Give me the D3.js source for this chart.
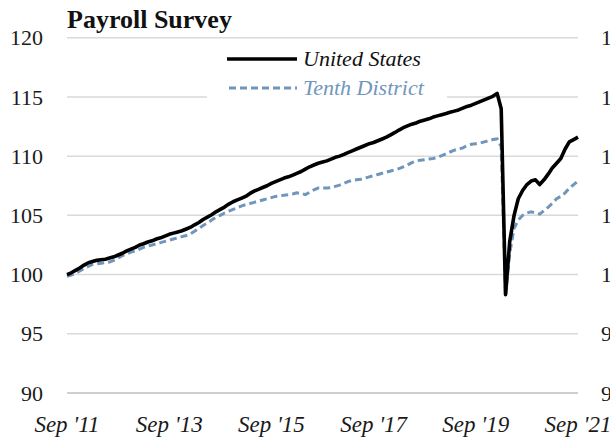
<!DOCTYPE html>
<html><head><meta charset="utf-8">
<script src="https://cdn.jsdelivr.net/npm/d3@7"></script>
<style>body{margin:0;background:#fff;}</style>
</head><body>
<svg id="c" width="610" height="443"></svg>
<script>
const title = "Payroll Survey";
const seriesNames = ["United States", "Tenth District"];
const startMonth = new Date(2011, 8, 1);
const yTicks = [90, 95, 100, 105, 110, 115, 120];
const xTickLabels = ["Sep '11", "Sep '13", "Sep '15", "Sep '17", "Sep '19", "Sep '21"];
const xTickDates = [new Date(2011,8,1), new Date(2013,8,1), new Date(2015,8,1), new Date(2017,8,1), new Date(2019,8,1), new Date(2021,8,1)];

// Monthly index values, Sep 2011 .. Sep 2021
const unitedStates = [
100.0,100.15,100.35,100.55,100.8,101.0,101.1,101.2,101.25,101.3,
101.4,101.5,101.65,101.8,102.0,102.15,102.3,102.5,102.6,102.75,
102.85,103.0,103.1,103.25,103.4,103.5,103.6,103.7,103.85,104.0,
104.2,104.4,104.65,104.85,105.05,105.3,105.5,105.7,105.95,106.15,
106.3,106.45,106.6,106.85,107.05,107.2,107.35,107.5,107.7,107.85,
108.0,108.15,108.25,108.4,108.55,108.7,108.9,109.1,109.25,109.4,
109.5,109.6,109.75,109.9,110.0,110.15,110.3,110.45,110.6,110.75,
110.9,111.05,111.15,111.3,111.45,111.6,111.8,112.0,112.2,112.4,
112.55,112.7,112.8,112.95,113.05,113.15,113.3,113.4,113.5,113.6,
113.7,113.8,113.9,114.05,114.2,114.3,114.45,114.6,114.75,114.9,
115.05,115.3,114.0,98.3,102.8,105.0,106.4,107.1,107.6,107.9,
108.0,107.6,108.0,108.5,109.0,109.4,109.8,110.6,111.2,111.4,
111.6];
const tenthDistrict = [
99.85,99.95,100.1,100.3,100.5,100.7,100.85,100.9,100.95,101.0,
101.05,101.2,101.4,101.6,101.75,101.9,102.0,102.15,102.3,102.4,
102.5,102.6,102.7,102.8,102.9,103.0,103.1,103.2,103.3,103.45,
103.65,103.9,104.15,104.35,104.6,104.85,105.0,105.2,105.35,105.5,
105.65,105.8,105.9,106.0,106.1,106.2,106.3,106.4,106.5,106.6,
106.65,106.7,106.75,106.8,106.9,106.85,106.75,106.95,107.15,107.3,
107.3,107.3,107.35,107.45,107.55,107.7,107.85,107.95,108.0,108.05,
108.15,108.25,108.35,108.45,108.55,108.65,108.75,108.85,108.95,109.1,
109.25,109.45,109.6,109.65,109.7,109.75,109.8,109.9,110.05,110.2,
110.35,110.5,110.6,110.7,110.9,111.0,111.05,111.1,111.2,111.3,
111.4,111.45,110.8,98.2,101.8,103.9,104.6,105.0,105.2,105.3,
105.2,105.1,105.4,105.7,106.0,106.4,106.6,106.9,107.3,107.6,
107.9];

const months = unitedStates.map((_, i) => new Date(startMonth.getFullYear(), startMonth.getMonth() + i, 1));
const FONT = "'Liberation Serif', 'Times New Roman', serif";

const svg = d3.select("#c");
const x = d3.scaleTime().domain([months[0], months[months.length-1]]).range([67, 578]);
const y = d3.scaleLinear().domain([90, 120]).range([393, 37.7]);

svg.append("g").selectAll("line").data(yTicks).join("line")
  .attr("x1", 67).attr("x2", 578)
  .attr("y1", d => y(d)).attr("y2", d => y(d))
  .attr("stroke", d => d === 90 ? "#bfbfbf" : "#d9d9d9").attr("stroke-width", 1.5);

svg.append("g").selectAll("text").data(yTicks).join("text")
  .style("font-family", FONT)
  .attr("x", 43).attr("y", d => y(d)).attr("dy", "0.35em")
  .attr("text-anchor", "end").attr("font-size", 22).attr("fill", "#1a1a1a")
  .text(d => d);
// right-hand labels, cut by the window edge as in the reference
svg.append("g").selectAll("text").data(yTicks).join("text")
  .style("font-family", FONT)
  .attr("x", 601).attr("y", d => y(d)).attr("dy", "0.35em")
  .attr("text-anchor", "start").attr("font-size", 22).attr("fill", "#1a1a1a")
  .text(d => d);

svg.append("g").selectAll("text").data(xTickDates).join("text")
  .style("font-family", FONT)
  .attr("x", d => x(d)).attr("y", 432)
  .attr("text-anchor", "middle").attr("font-size", 23).attr("font-style", "italic").attr("fill", "#1a1a1a")
  .text((d, i) => xTickLabels[i]);

svg.append("rect").attr("x", 207).attr("y", 45).attr("width", 240).attr("height", 60).attr("fill", "#fff");

const line = d3.line().x((d, i) => x(months[i])).y(d => y(d));
svg.append("path").datum(tenthDistrict).attr("d", line)
  .attr("fill", "none").attr("stroke", "#7096bb").attr("stroke-width", 3).attr("stroke-dasharray", "7,4");
svg.append("path").datum(unitedStates).attr("d", line)
  .attr("fill", "none").attr("stroke", "#000").attr("stroke-width", 3.6).attr("stroke-linejoin", "round");

svg.append("line").attr("x1", 227).attr("x2", 297).attr("y1", 59).attr("y2", 59).attr("stroke", "#000").attr("stroke-width", 3.6);
svg.append("text").style("font-family", FONT).attr("x", 303).attr("y", 66).attr("font-size", 22).attr("font-style", "italic").attr("fill", "#111").text(seriesNames[0]);
svg.append("line").attr("x1", 229).attr("x2", 297).attr("y1", 88).attr("y2", 88).attr("stroke", "#7096bb").attr("stroke-width", 3).attr("stroke-dasharray", "7,4");
svg.append("text").style("font-family", FONT).attr("x", 303).attr("y", 95).attr("font-size", 22).attr("font-style", "italic").attr("fill", "#7096bb").text(seriesNames[1]);

svg.append("text").style("font-family", FONT).attr("x", 67).attr("y", 28).attr("font-size", 26).attr("font-weight", "bold").attr("fill", "#111").text(title);
</script>
</body></html>
